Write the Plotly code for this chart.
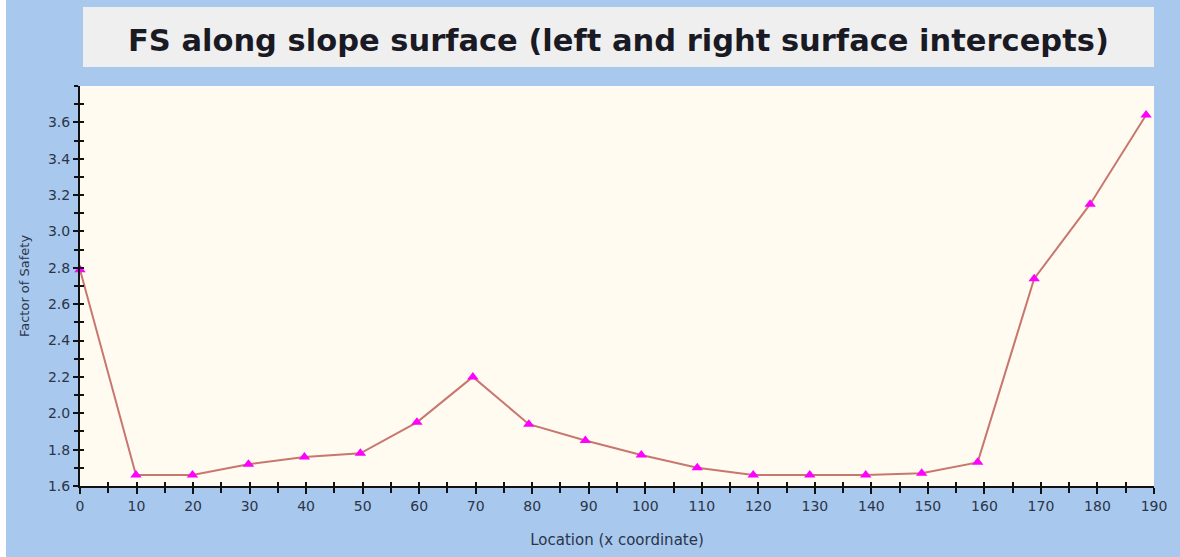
import plotly.graph_objects as go

location = [0, 9.9, 19.9, 29.8, 39.7, 49.6, 59.6, 69.5, 79.4, 89.4, 99.3, 109.2,
            119.1, 129.1, 139.0, 148.9, 158.8, 168.8, 178.7, 188.6]
fs = [2.79, 1.66, 1.66, 1.72, 1.76, 1.78, 1.95, 2.20, 1.94, 1.85, 1.77, 1.70,
      1.66, 1.66, 1.66, 1.67, 1.73, 2.74, 3.15, 3.64]

y_ticks = [1.6, 1.8, 2.0, 2.2, 2.4, 2.6, 2.8, 3.0, 3.2, 3.4, 3.6]
y_tick_labels = ["1.6", "1.8", "2.0", "2.2", "2.4", "2.6", "2.8", "3.0", "3.2", "3.4", "3.6"]

title_text = "FS along slope surface (left and right surface intercepts)"
x_title = "Location (x coordinate)"
y_title = "Factor of Safety"

W, H = 1180, 557
L, R, T, B = 80, 1154, 86, 486

def px(x):
    return (x - L) / (R - L)

def py(y):
    return (B - y) / (B - T)

fig = go.Figure()
fig.add_trace(go.Scatter(
    x=location, y=fs, mode="lines+markers",
    line=dict(color="#C8776F", width=2),
    marker=dict(symbol="triangle-up", size=10, color="#FF00FF"),
    showlegend=False, cliponaxis=False,
))

txt = "#2B3548"
axis_font = dict(family="DejaVu Sans", size=14, color=txt)
fig.update_layout(
    width=W, height=H,
    margin=dict(l=L, r=W - R, t=T, b=H - B),
    paper_bgcolor="#A8C8EE",
    plot_bgcolor="#FFFBF0",
    font=dict(family="DejaVu Sans", color=txt),
    xaxis=dict(range=[0, 190], tickmode="linear", tick0=0, dtick=10,
               ticks="outside", ticklen=6, tickwidth=2, tickcolor="#111",
               showline=True, linecolor="#111", linewidth=2,
               showgrid=False, zeroline=False, tickfont=axis_font,
               minor=dict(dtick=5, ticks="outside", ticklen=5, tickwidth=2, tickcolor="#111"),
               title=dict(text=x_title, font=dict(family="DejaVu Sans", size=15, color=txt), standoff=22)),
    yaxis=dict(range=[1.6, 3.8], tickmode="array",
               tickvals=y_ticks, ticktext=y_tick_labels,
               ticks="outside", ticklen=5, tickwidth=2, tickcolor="#111",
               showline=True, linecolor="#111", linewidth=2,
               showgrid=False, zeroline=False, tickfont=axis_font,
               minor=dict(dtick=0.1, tick0=1.6, ticks="outside", ticklen=4, tickwidth=2, tickcolor="#111"),
               title=dict(text=y_title, font=dict(family="DejaVu Sans", size=13, color=txt), standoff=15)),
    xaxis2=dict(range=[0, 190], overlaying="x", tickmode="linear", tick0=0, dtick=5,
                ticks="inside", ticklen=4, tickwidth=2, tickcolor="#111",
                showticklabels=False, showgrid=False, zeroline=False, anchor="y"),
    yaxis2=dict(range=[1.6, 3.8], overlaying="y", tickmode="linear", tick0=1.6, dtick=0.1,
                ticks="inside", ticklen=4, tickwidth=2, tickcolor="#111",
                showticklabels=False, showgrid=False, zeroline=False, anchor="x", side="left"),
)
fig.add_trace(go.Scatter(x=[None], y=[None], xaxis="x2", yaxis="y2", showlegend=False, hoverinfo="skip"))

# white left strip
fig.add_shape(type="rect", xref="paper", yref="paper", x0=px(0), x1=px(6), y0=py(H), y1=py(0),
              fillcolor="white", line_width=0, layer="below")
# title box
fig.add_shape(type="rect", xref="paper", yref="paper", x0=px(83), x1=px(1154), y0=py(67), y1=py(7),
              fillcolor="#EFEFEF", line_width=0, layer="below")
fig.add_annotation(xref="paper", yref="paper", x=px(618), y=py(40), text="<b>" + title_text + "</b>",
                   showarrow=False, font=dict(family="DejaVu Sans", size=30.5, color="#1A1A24"),
                   xanchor="center", yanchor="middle")

fig.write_html("out.html", config={"displayModeBar": False},
               post_script="document.body.style.margin='0';document.body.style.overflow='hidden';")
